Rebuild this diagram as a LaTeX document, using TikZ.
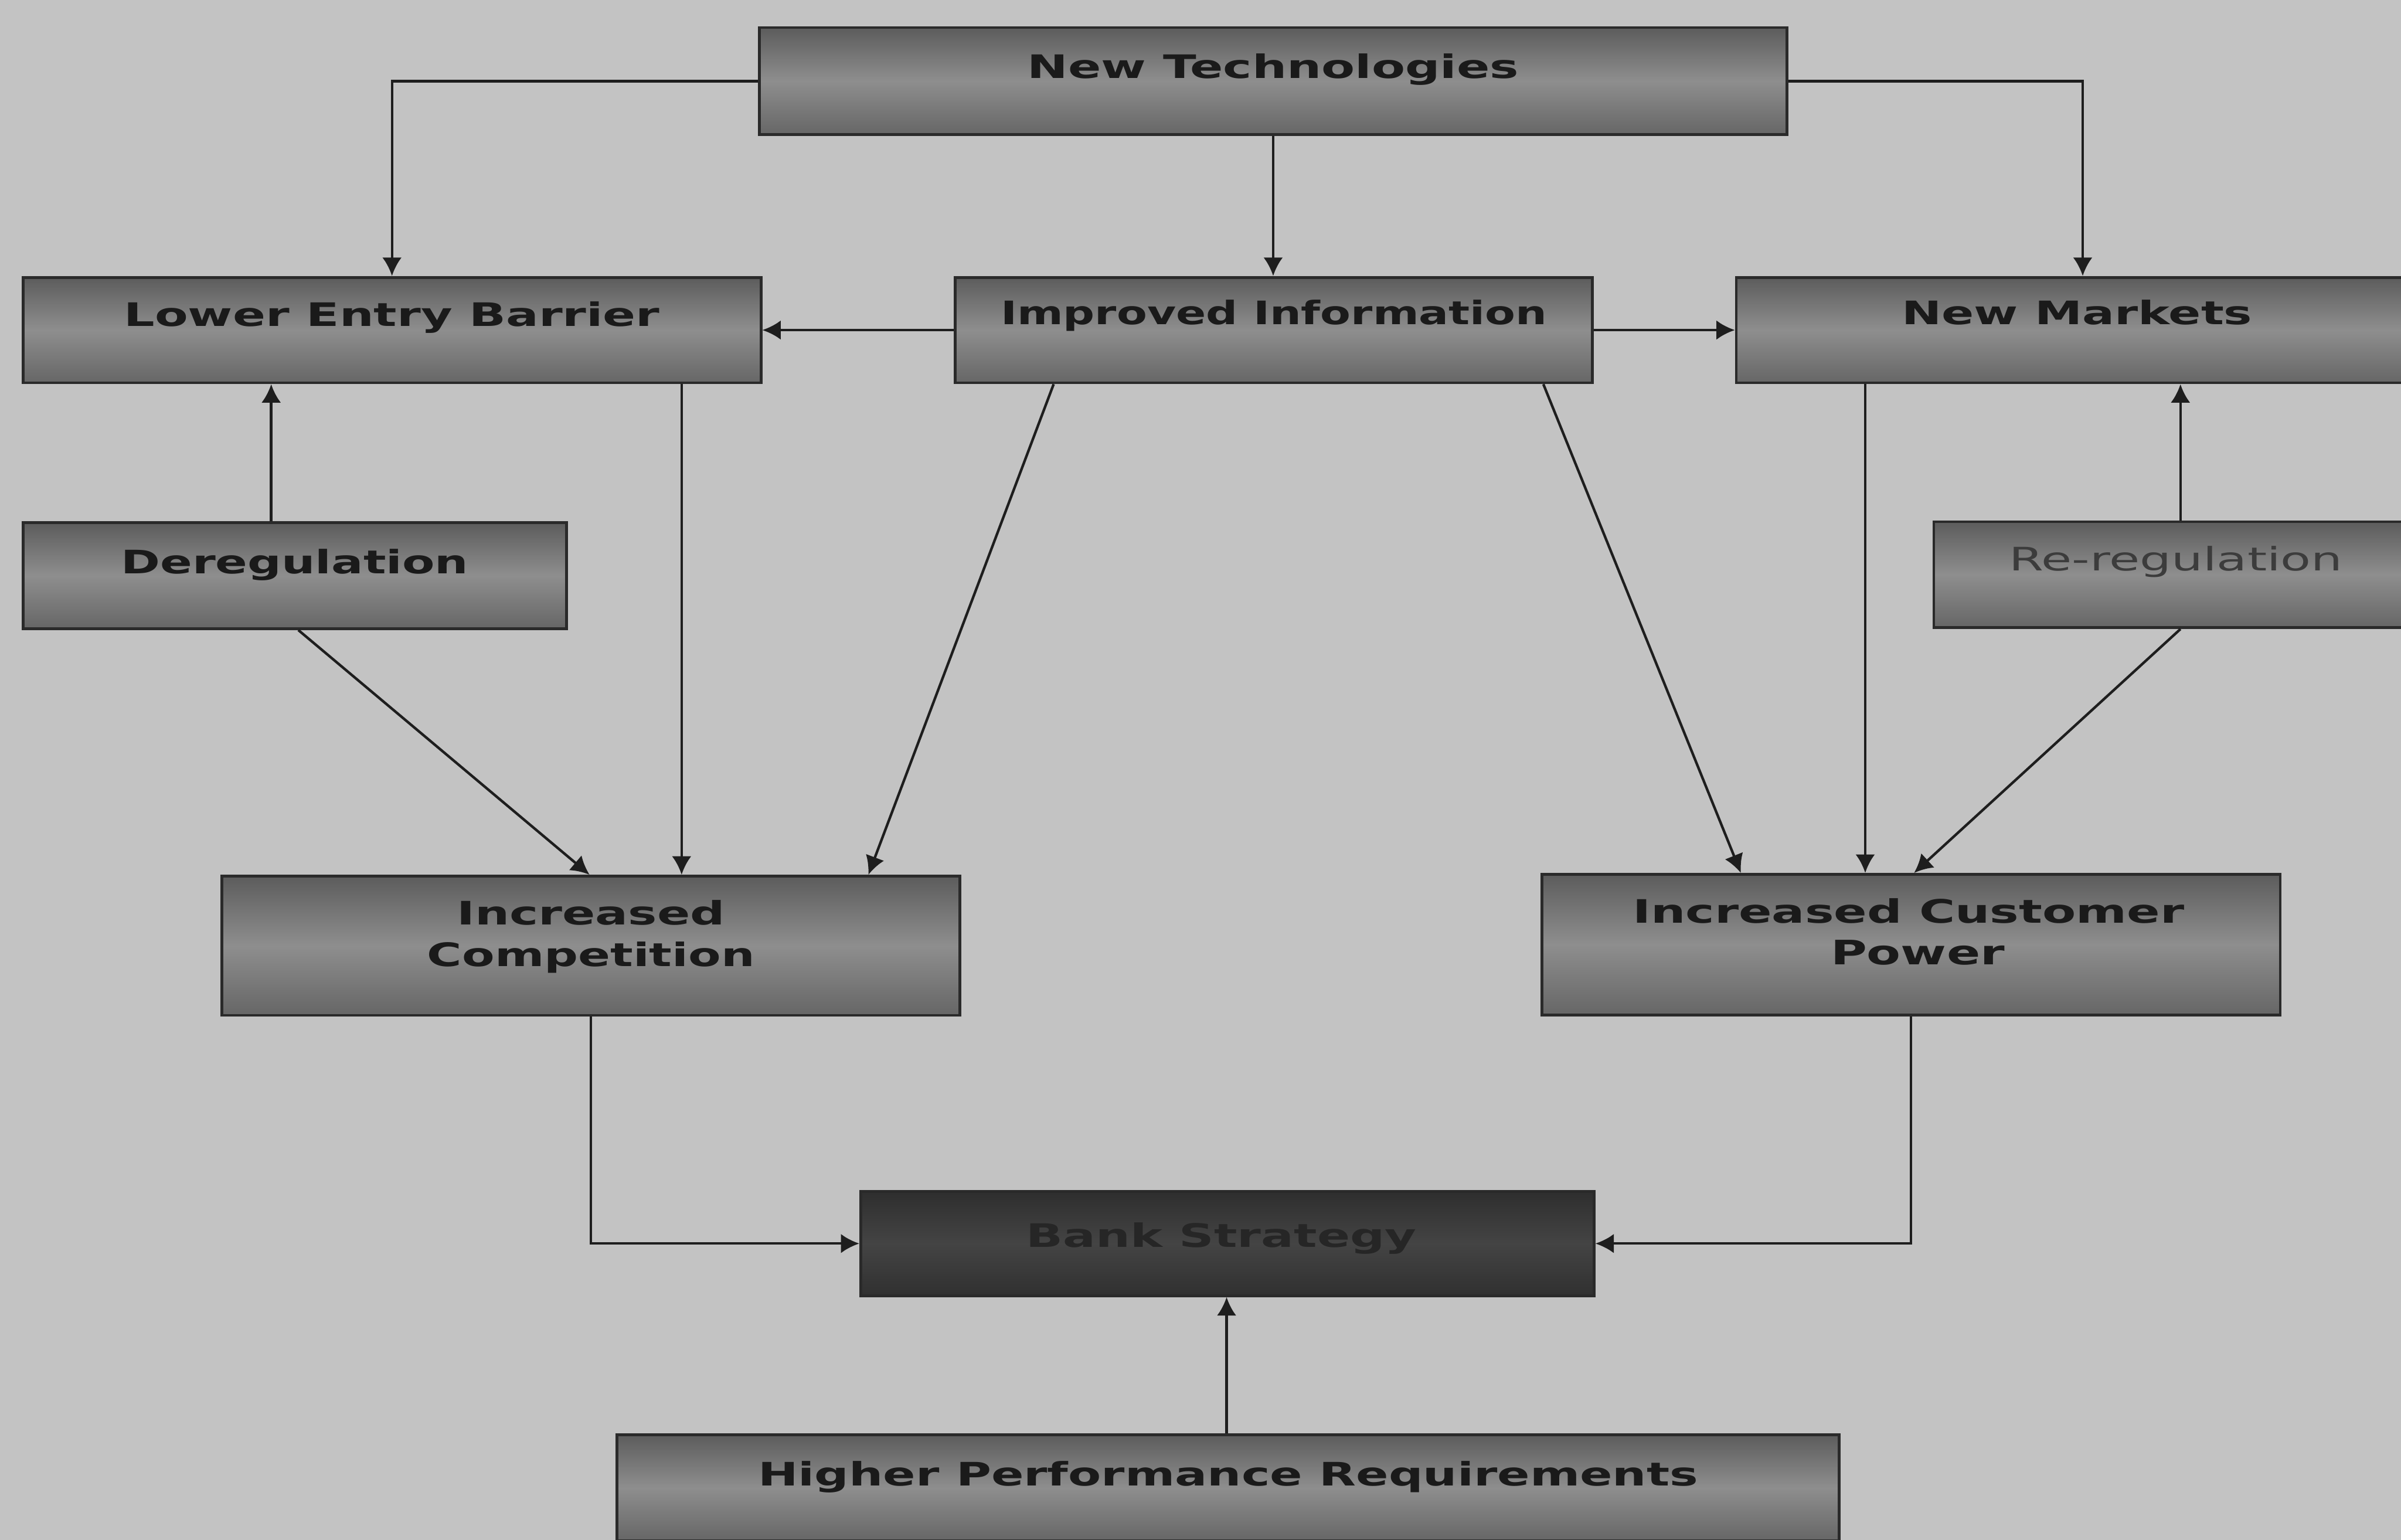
\documentclass[tikz,border=0pt]{standalone}
\usepackage{graphicx}
\usepackage{fontspec}
\setmainfont{DejaVu Sans}
\usetikzlibrary{arrows.meta,calc}

\definecolor{bg}{HTML}{C3C3C3}
\definecolor{edge}{HTML}{2A2A2A}
\definecolor{boxtop}{HTML}{5C5C5C}
\definecolor{boxmid}{HTML}{8E8E8E}
\definecolor{boxbot}{HTML}{666666}
\definecolor{darktop}{HTML}{2E2E2E}
\definecolor{darkmid}{HTML}{444444}
\definecolor{darkbot}{HTML}{303030}
\definecolor{ink}{HTML}{1A1A1A}
\definecolor{lc}{HTML}{1E1E1E}

% stretch a label to a given width and ascender height
\newcommand{\fitw}[2]{\resizebox{#1}{0.48cm}{#2}}

\tikzset{
  box/.style={rectangle, draw=edge, line width=0.055cm, inner sep=0pt,
    top color=boxtop, bottom color=boxbot, middle color=boxmid},
  darkbox/.style={box, top color=darktop, bottom color=darkbot, middle color=darkmid},
  txt/.style={inner sep=0pt, anchor=base, text=ink, font=\bfseries},
  arr/.style={draw=lc, line width=0.05cm, -{Latex[length=0.36cm,width=0.38cm]}},
}

\begin{document}
\begin{tikzpicture}
\useasboundingbox (0,0) rectangle (46.92,30.09);
\fill[bg] (0,0) rectangle (46.92,30.09);
\clip (0,0) rectangle (46.92,30.09);

% boxes
\node[box, minimum width=20.08cm, minimum height=2.09cm] (nt) at (24.88,28.505) {};
\node[box, minimum width=14.42cm, minimum height=2.06cm] (leb) at (7.66,23.64) {};
\node[box, minimum width=12.45cm, minimum height=2.06cm] (ii) at (24.895,23.64) {};
\node[box, minimum width=13.32cm, minimum height=2.06cm] (nm) at (40.59,23.64) {};
\node[box, minimum width=10.62cm, minimum height=2.07cm] (dr) at (5.76,18.84) {};
\node[box, minimum width=9.46cm, minimum height=2.07cm] (rr) at (42.52,18.86) {};
\node[box, minimum width=14.42cm, minimum height=2.72cm] (ic) at (11.55,11.61) {};
\node[box, minimum width=14.43cm, minimum height=2.75cm] (cp) at (37.345,11.63) {};
\node[darkbox, minimum width=14.33cm, minimum height=2.04cm] (bs) at (23.985,5.79) {};
\node[box, minimum width=23.88cm, minimum height=2.07cm] (hp) at (24.0,1.015) {};

% labels
\node[txt] (ntT) at ([yshift=-1.02cm]nt.north) {\fitw{9.60cm}{New Technologies}};
\node[txt] (lebT) at ([yshift=-0.98cm]leb.north) {\fitw{10.47cm}{Lower Entry Barrier}};
\node[txt] (iiT) at ([yshift=-0.95cm]ii.north) {\fitw{10.68cm}{Improved Information}};
\node[txt] (nmT) at ([yshift=-0.95cm]nm.north) {\fitw{6.85cm}{New Markets}};
\node[txt] (drT) at ([yshift=-1.02cm]dr.north) {\fitw{6.79cm}{Deregulation}};
\node[txt, font=\mdseries, text=ink!85] (rrT) at ([yshift=-0.98cm]rr.north) {\fitw{6.52cm}{Re-regulation}};
\node[txt] (icT1) at ([yshift=-0.98cm]ic.north) {\fitw{5.24cm}{Increased}};
\node[txt] (icT2) at ([yshift=-1.79cm]ic.north) {\fitw{6.40cm}{Competition}};
\node[txt] (cpT1) at ([xshift=-0.05cm,yshift=-0.98cm]cp.north) {\fitw{10.78cm}{Increased Customer}};
\node[txt] (cpT2) at ([xshift=0.13cm,yshift=-1.79cm]cp.north) {\fitw{3.40cm}{Power}};
\node[txt, text=black!85] (bsT) at ([xshift=-0.12cm,yshift=-1.12cm]bs.north) {\fitw{7.63cm}{Bank Strategy}};
\node[txt] (hpT) at ([yshift=-1.02cm]hp.north) {\fitw{18.37cm}{Higher Performance Requirements}};

% connectors from New Technologies
\draw[arr] (nt.west) -| (leb.north);
\draw[arr] (nt.east) -| ([xshift=0.11cm]nm.north);
\draw[arr] (nt.south) -- (nt.south |- ii.north);

% Improved Information to its neighbours
\draw[arr] (ii.west) -- (leb.east);
\draw[arr] (ii.east) -- (nm.east -| nm.west);

% regulation boxes feeding upwards
\draw[arr] ([xshift=-0.46cm]dr.north) coordinate (d1) -- (d1 |- leb.south);
\draw[arr] ([xshift=0.09cm]rr.north) coordinate (r1) -- (r1 |- nm.south);

% into Increased Competition
\draw[arr] (13.32,0 |- leb.south) coordinate (l1) -- (l1 |- ic.north);
\draw[arr] ([xshift=0.07cm]dr.south) -- ([xshift=-0.03cm]ic.north);
\draw[arr] (20.59,0 |- ii.south) -- (16.97,0 |- ic.north);

% into Increased Customer Power
\draw[arr] (30.16,0 |- ii.south) -- (34.02,0 |- cp.north);
\draw[arr] (36.45,0 |- nm.south) coordinate (m1) -- (m1 |- cp.north);
\draw[arr] ([xshift=0.09cm]rr.south) -- ([xshift=0.06cm]cp.north);

% into Bank Strategy
\draw[arr] (ic.south) |- (bs.west);
\draw[arr] (cp.south) |- (bs.east);
\draw[arr] ([xshift=-0.03cm]hp.north) coordinate (h1) -- (h1 |- bs.south);
\end{tikzpicture}
\end{document}
